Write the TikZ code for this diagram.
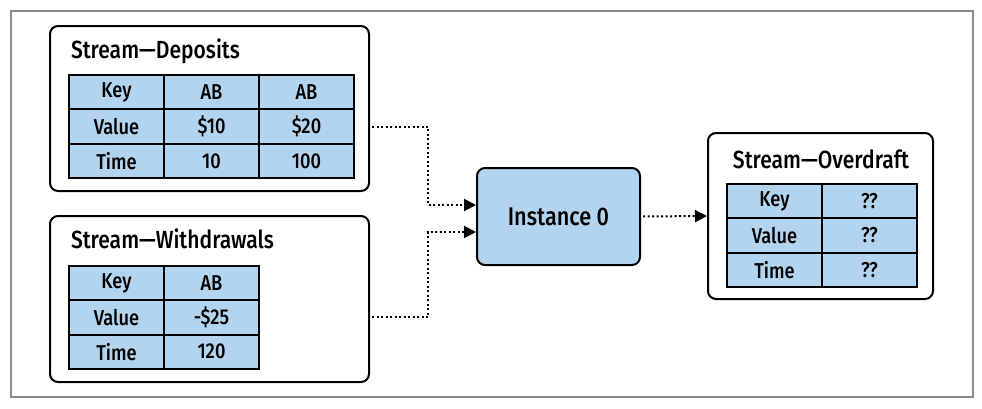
\documentclass[tikz,border=0pt]{standalone}
\usepackage{fontspec}
\setmainfont{Fira Sans}[UprightFont=* Medium,FakeStretch=0.85]
\usetikzlibrary{arrows.meta}
\definecolor{cellblue}{HTML}{B3D4EE}
\definecolor{framegray}{HTML}{8C8C8C}
\begin{document}
\begin{tikzpicture}[x=1pt,y=-1pt,line width=2pt,
    every node/.style={inner sep=0pt},
    stream/.style={draw,rounded corners=8pt},
    cell/.style={draw,fill=cellblue,minimum width=95pt,minimum height=34.33pt,
      font=\fontsize{21.5}{24}\selectfont},
    title/.style={font=\fontsize{24.8}{28}\selectfont},
    flow/.style={dash pattern=on 2pt off 2.5pt,shorten <=2pt,
      -{Triangle[length=12pt,width=12pt]}}]
  \useasboundingbox(0,0)rectangle(982,408);
  \draw[framegray,line width=1.5pt](11,11)rectangle(973,397);
  % input streams
  \node[stream,minimum width=319pt,minimum height=165pt](dep)at(209.5,108.5){};
  \node[title,anchor=base west]at(70,58){Stream—Deposits};
  \foreach \lab/\a/\b [count=\r] in {Key/AB/AB,Value/\$10/\$20,Time/10/100}{
    \node[cell](d\r-1)at(116.5,57.87+34.33*\r){\lab};
    \node[cell](d\r-2)at(211.5,57.87+34.33*\r){\a};
    \node[cell](d\r-3)at(306.5,57.87+34.33*\r){\b};
  }
  \node[stream,minimum width=319pt,minimum height=166pt](wit)at(209.5,299){};
  \node[title,anchor=base west]at(70,248){Stream—Withdrawals};
  \foreach \lab/\a [count=\r] in {Key/AB,Value/-\$25,Time/120}{
    \node[cell](w\r-1)at(116.5,248.67+34.33*\r){\lab};
    \node[cell](w\r-2)at(211.5,248.67+34.33*\r){\a};
  }
  % processing
  \node[stream,fill=cellblue,minimum width=163pt,minimum height=97pt,
    font=\fontsize{25.5}{30}\selectfont](inst)at(558.5,216.5){Instance 0};
  % output stream
  \node[stream,minimum width=225pt,minimum height=166pt](ov)at(820.5,216){};
  \node[title,anchor=base]at(821,168){Stream—Overdraft};
  \foreach \lab [count=\r] in {Key,Value,Time}{
    \node[cell](o\r-1)at(774.5,166.87+34.33*\r){\lab};
    \node[cell](o\r-2)at(869.5,166.87+34.33*\r){??};
  }
  \coordinate(dj)at(428,205);
  \coordinate(wj)at(428,232);
  \draw[flow](dep.east|-d2-1)-|(dj)--(inst.west|-dj);
  \draw[flow](wit.east|-w2-1)-|(wj)--(inst.west|-wj);
  \draw[flow](inst.east)--(ov.west);
\end{tikzpicture}
\end{document}
